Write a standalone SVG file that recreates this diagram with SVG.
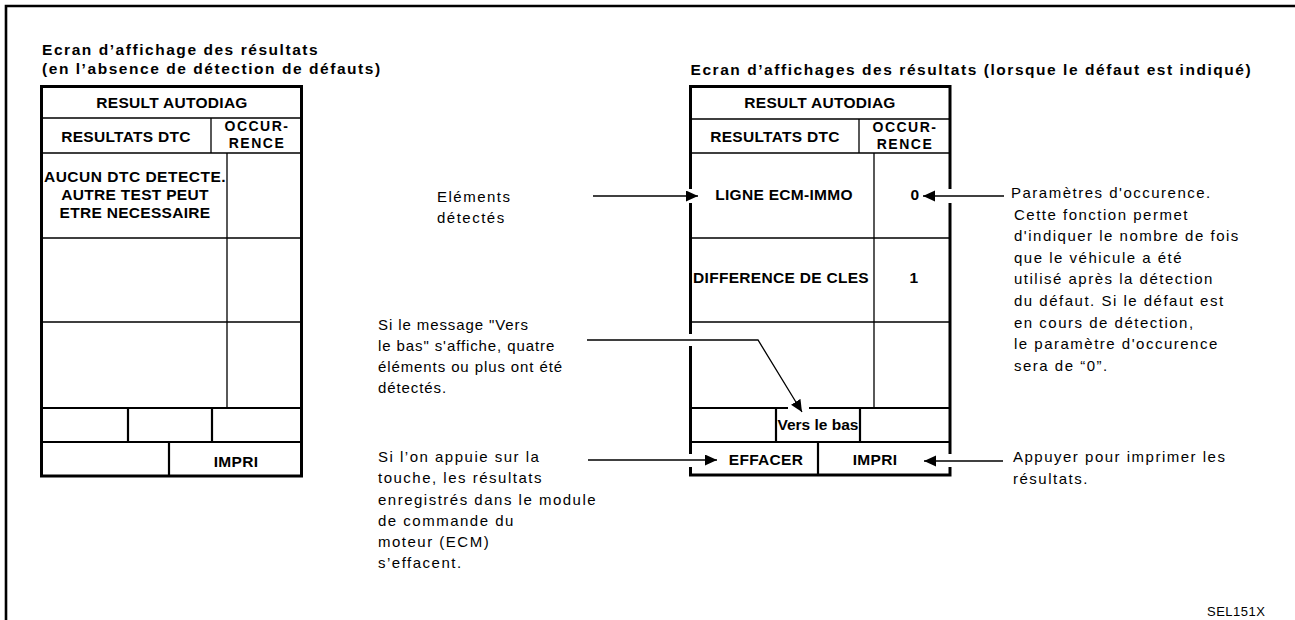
<svg xmlns="http://www.w3.org/2000/svg" width="1295" height="620" viewBox="0 0 1295 620">
<style>
text{font-family:"Liberation Sans",Arial,Helvetica,sans-serif;fill:#000}
.ttl{font-size:15.5px;font-weight:bold;letter-spacing:1.55px}
.b{font-size:15.5px;font-weight:bold;letter-spacing:0.3px;text-anchor:middle}
.o{font-size:14px;font-weight:bold;letter-spacing:1.5px;text-anchor:middle}
.n{font-size:15px;letter-spacing:1.5px}
.n2{font-size:15px;letter-spacing:0.9px}
.frame{fill:none;stroke:#000;stroke-width:3}
.thin{stroke:#000;stroke-width:1.3;fill:none}
.med{stroke:#000;stroke-width:2.2;fill:none}
.lead{stroke:#000;stroke-width:1.3;fill:none}
.gap{fill:#fff}
</style>
<defs>
<marker id="ah" markerUnits="userSpaceOnUse" markerWidth="13" markerHeight="12" refX="12" refY="5.5" orient="auto"><path d="M0,0 L12,5.5 L0,11 Z" fill="#000"/></marker>
</defs>
<rect x="0" y="0" width="1295" height="620" fill="#fff"/>
<path d="M6,620 V6 H1295" fill="none" stroke="#000" stroke-width="2.6"/>

<g id="title-left">
<text class="ttl" x="42" y="55">Ecran d’affichage des résultats</text>
<text class="ttl" x="42" y="73.5">(en l’absence de détection de défauts)</text>
</g>
<g id="title-right">
<text class="ttl" x="690.5" y="75">Ecran d’affichages des résultats (lorsque le défaut est indiqué)</text>
</g>

<g id="screen-left">
<rect class="frame" x="41.5" y="86.5" width="260" height="389.5"/>
<path class="thin" d="M41.5,118 H301.5 M41.5,153 H301.5 M211,118 V153 M227,153 V408 M41.5,238 H301.5 M41.5,322 H301.5"/>
<path class="med" d="M41.5,408 H301.5 M41.5,442 H301.5 M128,408 V442 M212,408 V442 M169,442 V476"/>
<text class="b" x="172" y="108">RESULT AUTODIAG</text>
<text class="b" x="126" y="142">RESULTATS DTC</text>
<text class="o" x="257" y="131">OCCUR-</text>
<text class="o" x="257" y="148">RENCE</text>
<text class="b" x="135" y="182" style="letter-spacing:0.5px">AUCUN DTC DETECTE.</text>
<text class="b" x="135" y="200">AUTRE TEST PEUT</text>
<text class="b" x="135" y="218">ETRE NECESSAIRE</text>
<text class="b" x="236" y="467">IMPRI</text>
</g>

<g id="screen-right">
<rect class="frame" x="690.5" y="86.5" width="259.5" height="388.5"/>
<path class="thin" d="M690.5,119 H950 M690.5,153 H950 M859,119 V153 M874,153 V408 M690.5,238 H950 M690.5,322 H950"/>
<path class="med" d="M690.5,408 H950 M690.5,442 H950 M776,408 V442 M860,408 V442 M818,442 V475"/>
<rect class="gap" x="686" y="189" width="9" height="14"/>
<rect class="gap" x="686" y="334" width="9" height="12"/>
<rect class="gap" x="686" y="454" width="9" height="13"/>
<rect class="gap" x="945.5" y="189" width="9" height="14"/>
<rect class="gap" x="945.5" y="454" width="9" height="13"/>
<rect class="gap" x="788" y="405" width="21" height="6"/>
<text class="b" x="820" y="107.5">RESULT AUTODIAG</text>
<text class="b" x="775" y="142">RESULTATS DTC</text>
<text class="o" x="905" y="132">OCCUR-</text>
<text class="o" x="905" y="149">RENCE</text>
<text class="b" x="784" y="200">LIGNE ECM-IMMO</text>
<text class="b" x="915" y="200">0</text>
<text class="b" x="781" y="283">DIFFERENCE DE CLES</text>
<text class="b" x="914" y="283">1</text>
<text class="b" x="818" y="430" style="letter-spacing:0">Vers le bas</text>
<text class="b" x="766" y="465">EFFACER</text>
<text class="b" x="875" y="465">IMPRI</text>
</g>

<g id="connectors">
<path class="lead" d="M593,196 H698" marker-end="url(#ah)"/>
<path class="lead" d="M1004,196 H923" marker-end="url(#ah)"/>
<path class="lead" d="M587,340 H758 L802,412" marker-end="url(#ah)"/>
<path class="lead" d="M588,460 H717" marker-end="url(#ah)"/>
<path class="lead" d="M1003,461 H924" marker-end="url(#ah)"/>
</g>

<g id="note-elements">
<text class="n" x="437" y="201.5">Eléments</text>
<text class="n" x="437" y="223">détectés</text>
</g>
<g id="note-vers-le-bas">
<text class="n2" x="378" y="330">Si le message "Vers</text>
<text class="n2" x="378" y="351">le bas" s'affiche, quatre</text>
<text class="n2" x="378" y="372">éléments ou plus ont été</text>
<text class="n2" x="378" y="393">détectés.</text>
</g>
<g id="note-effacer">
<text class="n" x="378" y="462">Si l’on appuie sur la</text>
<text class="n" x="378" y="483">touche, les résultats</text>
<text class="n" x="378" y="504.5">enregistrés dans le module</text>
<text class="n" x="378" y="526">de commande du</text>
<text class="n" x="378" y="547">moteur (ECM)</text>
<text class="n" x="378" y="568">s’effacent.</text>
</g>
<g id="note-occurence">
<text class="n" x="1011" y="198">Paramètres d'occurence.</text>
<text class="n" x="1014" y="219.6">Cette fonction permet</text>
<text class="n" x="1014" y="241.2">d'indiquer le nombre de fois</text>
<text class="n" x="1014" y="262.8">que le véhicule a été</text>
<text class="n" x="1014" y="284.4">utilisé après la détection</text>
<text class="n" x="1014" y="306">du défaut. Si le défaut est</text>
<text class="n" x="1014" y="327.6">en cours de détection,</text>
<text class="n" x="1014" y="349.2">le paramètre d'occurence</text>
<text class="n" x="1014" y="370.8">sera de “0”.</text>
</g>
<g id="note-imprimer">
<text class="n" x="1013" y="462">Appuyer pour imprimer les</text>
<text class="n" x="1013" y="483.5">résultats.</text>
</g>
<g id="ref-code">
<text x="1207" y="616" style="font-size:13px;letter-spacing:0.5px">SEL151X</text>
</g>
</svg>
